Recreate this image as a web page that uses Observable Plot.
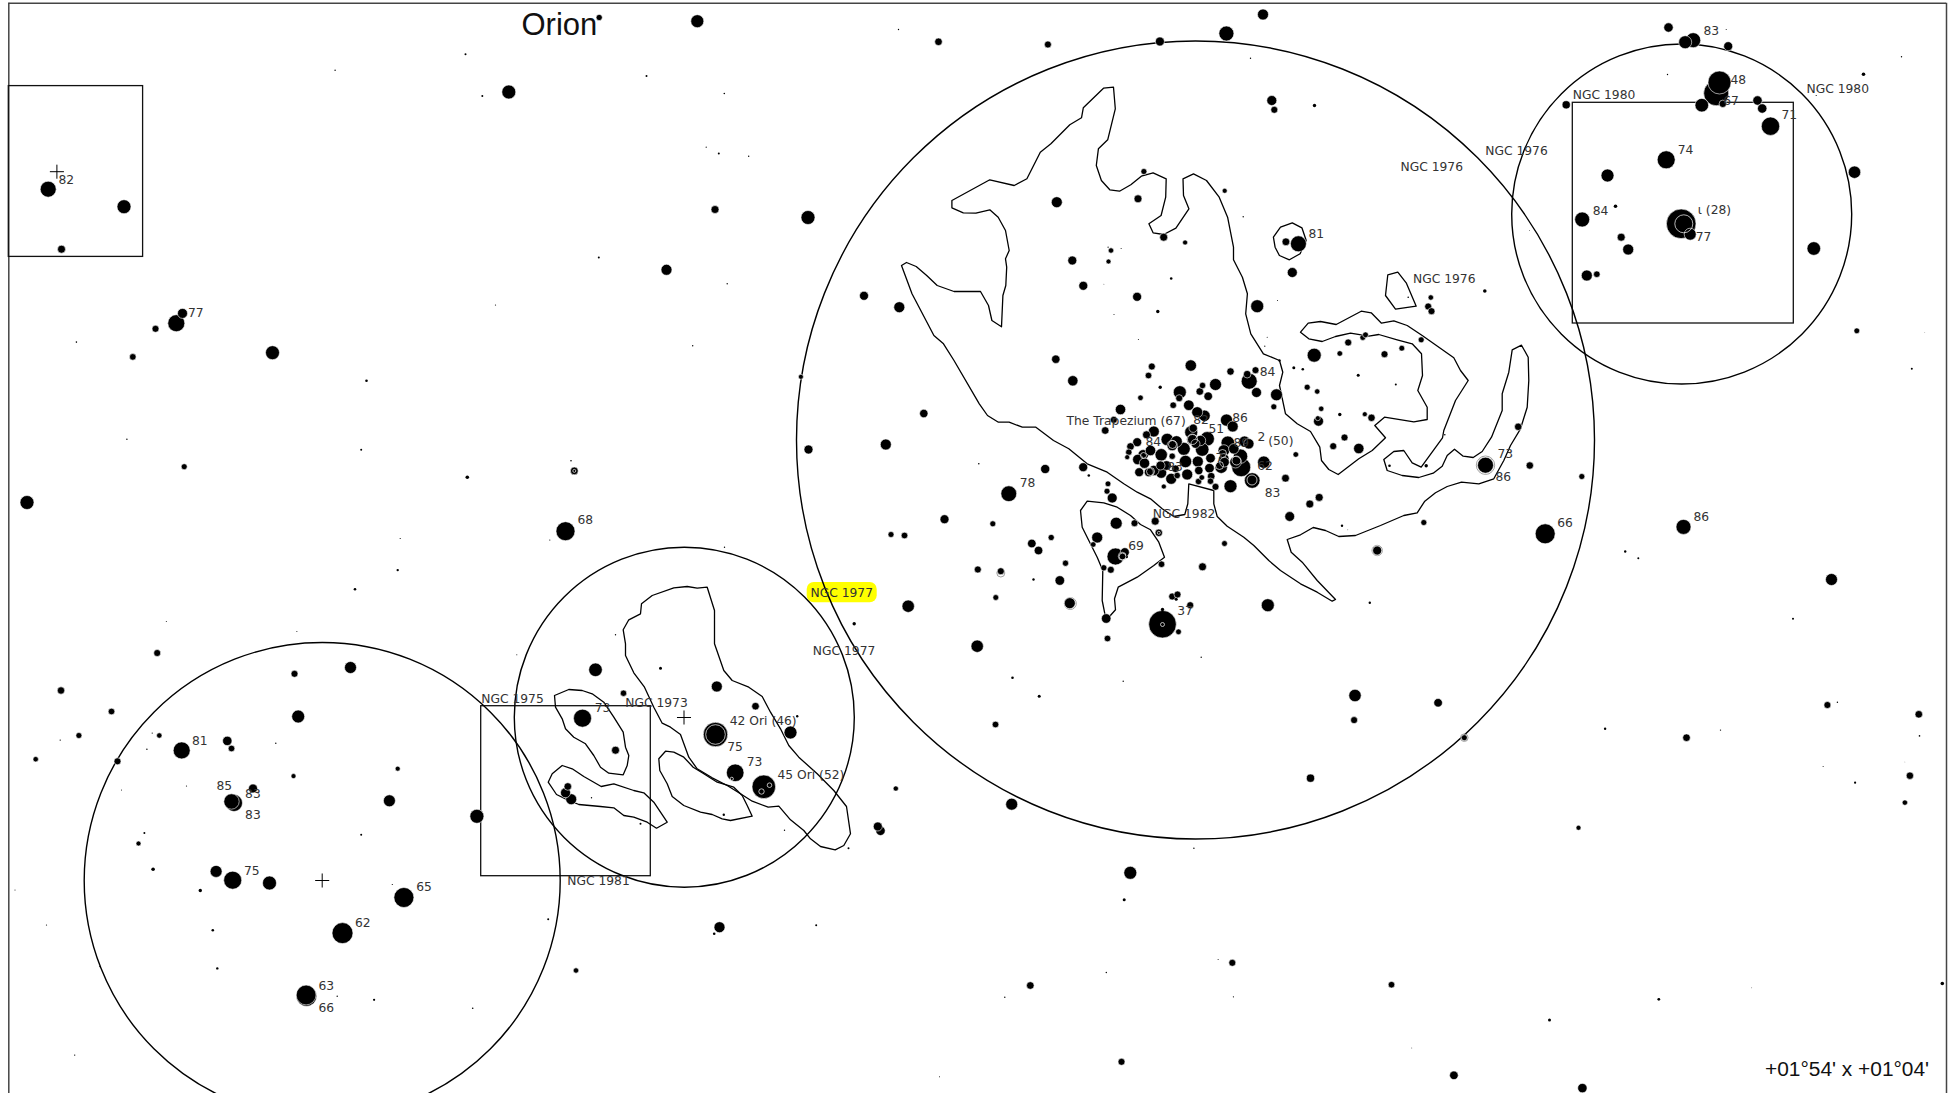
<!DOCTYPE html>
<html>
<head>
<meta charset="utf-8">
<style>
html,body{margin:0;padding:0;background:#fff;overflow:hidden}
svg{display:block}
</style>
<script src="https://cdn.jsdelivr.net/npm/d3@7"></script>
<script src="https://cdn.jsdelivr.net/npm/@observablehq/plot@0.6"></script>
</head>
<body>
<div id="chart"></div>
<script>
// Values: [x, y, size] in chart units (y grows downward)
const westStars = [[598.7,17,2.6],[465,53.7,1],[334.6,69.8,.7],[481.8,95.4,1],[508.3,91.5,6.5],[646,75.4,1],[47.7,188.7,7.5],[123.5,206.2,6.5],[61,248.7,3.5],[598.3,257,1],[495,304.5,.6],[182,312.9,4.5],[175.8,322.7,8],[155,328.3,3],[75.9,341.6,.8],[132.3,356.4,2.8],[272,352.2,6.5],[366,380.2,1.3],[126.4,438.8,.7],[360.7,449.3,1],[183.7,466.2,2.5],[466.8,476.7,1.8],[570.5,460.2,.8],[573.8,470.4,3.4],[26.5,502,6.5],[565,530.7,9],[399.7,538,.6],[549.3,539.5,.6]];
const southWestStars = [[397.2,569.6,1.2],[354.5,588.7,1.3],[165.8,621,.5],[296.4,631,.5],[156.7,652.5,3],[350,667,5.5],[294,673.3,3],[60.5,690,3.2],[111,711,2.8],[297.7,716,6],[78.4,735,2.5],[59.7,739.6,.7],[158.8,735,2.2],[151.7,732.6,.6],[146.4,748.8,.7],[181.2,749.9,8],[226.8,740.4,4.2],[231,748,2.8],[275.3,742.8,.7],[35.2,758.7,2.2],[117,760.8,3],[397.2,768.2,2],[293,775.6,2],[186,785.5,.6],[121,789.4,.5],[252.5,788,4],[233.5,802.5,8],[231,801,7.2],[388.9,800.3,5.5],[476.4,815.8,6.5],[143.9,832.4,1],[138,843,2],[360.7,834.2,1],[152.6,868.7,1.8],[215.6,870.9,5.5],[232.2,879.7,8.5],[269,882.5,6.5],[391.8,884,.6],[14.5,889.6,.5],[199.8,890,1.7],[403.4,897,9.5],[46,924.5,.6],[547.7,918.8,1],[342,932.6,10],[212.3,929.8,1.3],[99.5,966,.7],[216.8,967.9,1.2],[575.5,970,2.2],[306,995.5,9.8],[305.6,994.5,9.4],[336.7,995.7,.7],[373.6,999.3,1.1],[472.2,1007.7,.8],[74.2,1054.6,.7]];
const sword = [[724,546.7,.7],[907.7,605.7,5.7],[853.7,623.3,1.7],[615,634.3,.7],[516.3,654.3,.5],[595,669.3,6.3],[660,667.7,1.5],[716.3,686,5],[623,692.7,2.7],[755,705.7,3.3],[582,717.7,8.5],[796.7,715.7,1.2],[790,732,6],[715,734,11.7],[615,749.7,3.5],[734.7,772.3,8.3],[763.3,786.3,11.3],[567.3,786,3.3],[565,792.3,4.5],[570.7,798.7,5],[591,797.3,.7],[895.3,788,2.1],[877.3,826,4],[880,830.3,4.2],[640,823.3,1],[723.3,814.3,1.2],[784,829.7,.7],[848,847.7,1],[719,926.7,5],[713.7,933.3,1.3],[815.7,924.7,1]];
const northStars = [[696.8,20.7,6],[898,29,.7],[938,41.3,3.3],[1047.4,44,3],[1159.4,41,4],[1225.9,33,7],[1262.5,14,5],[1250,57.7,.7],[723.8,93,.8],[705.7,146.7,.6],[718.3,153,1],[748.2,155.7,.7],[714.5,209,3.5],[807.5,217,6.5],[666,269.3,5],[726.7,283.3,.7],[863.5,295.3,4],[898.8,306.7,5],[692.2,345.3,.7],[800.4,376.3,2],[1271.3,100,4.5],[1273.8,109.3,3],[1224.2,190.3,2],[1242.7,216.3,.7],[1056.3,201.7,5],[1137.5,198.3,3.5],[1143.4,171,2.5],[1163.2,236.7,3.5],[1184.6,242,2],[1110.5,250,2.2],[1107.6,246.7,.6],[1120.6,248,.5],[1108,261,2],[1071.8,260,4],[1082.8,285.3,4],[1103.4,283.7,.4],[1170.7,278,1.3],[1136.6,296.3,4],[1157.3,311,1.7],[1113.5,314,.5],[1137.9,339,.5],[1314,105,1.7],[1297.9,243.3,7.5],[1285.4,241.3,3.4],[1291.8,272,4.5],[1277,300,.5],[1256.7,305.7,6],[1266.7,336.7,.5],[1264.3,345.7,.6],[808,449,4],[885.3,444,5],[923.3,413,3.7],[890.5,534,2.5],[904,535,2.8]];
const trapezium = [[1055.3,358.7,3.7],[1072.3,380.3,4.7],[1151.3,366,3],[1148,375,2.8],[1190.3,365,5.2],[1230,371,3.2],[1246.7,373.7,3.3],[1248.7,380.7,7.5],[1255,369.7,3],[1256,392,4.5],[1276,394.3,5.5],[1273.3,406.3,2.5],[1215,384,5.5],[1202,385,2.7],[1199.3,391,3.3],[1207.7,395.7,3.8],[1179.3,391.7,6],[1178.7,397.7,3],[1172.7,404.7,2.8],[1140,397.3,2.3],[1159.7,386.7,1.7],[1188.3,404.7,4.8],[1196.7,411.7,5],[1204,415.3,5.2],[1226,419.6,5.6],[1232.2,426,5],[1120,409,4.7],[1113.3,419.3,3],[1104.7,430,3.3]];
const trapeziumCore = [[1153.3,431,5],[1146,434.3,3.5],[1136.7,441.7,4],[1130,446,3.3],[1128.3,451.7,2.7],[1126.7,456.7,2],[1142.7,454.3,4.7],[1150,450,4.7],[1137.3,459,4.7],[1144,462.7,4.7],[1160.7,454.3,5.7],[1166.7,439,5.7],[1176,441,5.3],[1171.7,445,4.7],[1171.7,455.7,2.7],[1183.3,448.3,6],[1191.7,439,5],[1190.7,431.7,6],[1192.7,427.7,3.7],[1206.7,438.3,6.7],[1200,440,4.7],[1201.7,449,6.3],[1195,443.3,4],[1227.3,442.3,6.3],[1244,441,5],[1248.3,443.3,4.7],[1223.3,450,5.3],[1233.3,448.3,4.7],[1240,455.7,6.7],[1223.3,458.3,4.7],[1210,457.7,4.3],[1185,461,5.7],[1197.3,461,5],[1235,461.7,5.3],[1224,461.7,4.3],[1220.7,466.7,5.7],[1240.7,466.7,9],[1263.3,461.7,5.7],[1251.7,480,7.3],[1230,485.7,6],[1215,486.3,3],[1209,467.7,4.3],[1210.7,475.7,3.3],[1210,480.7,2.7],[1198.3,470,3.7],[1201.3,477,2.3],[1198,481,2.7],[1186.7,474,5],[1176.7,475,2.7],[1170.7,478.3,5],[1163.3,486,2],[1160.7,472.3,5],[1153.3,470,4.7],[1148.3,471.7,4],[1138.7,471.7,4],[1166,465,4.3],[1175,468.3,3.3],[1160,465,4],[1285,477.7,3.4],[1295.3,454,2.3]];
const southOfTrapezium = [[1082.7,466.7,4],[1088.3,475,1.3],[1044.7,468.5,4.1],[1008.3,493.2,7.4],[1107.5,483.3,2.4],[1106.5,490.7,2.5],[1111.7,497.5,4.5],[978.3,463.3,.8],[944,518.7,4],[992.3,523.3,2.5],[1115.7,522.7,5.5],[1134,522.7,3],[1154.7,520.7,3.5],[1158.3,532.3,3.2],[1096.7,537,5],[1092.7,544,2.3],[1050.7,537,2.6],[1031.3,543,3.8],[1038,550,3.8],[1065,562.7,2.6],[1115,556,8],[1124.3,551.7,4],[1121.7,555.7,3.5],[1126,556.3,1.5],[1103.3,567.3,2.6],[1110.3,569.3,3],[1161,563.7,2.8],[1202,566.3,3.5],[1224,543,2.4],[977.3,569,3],[1000.3,570.7,3],[1033,579,1.2],[1059.3,580,4.3],[995.3,597,2.4],[1069.3,602.7,5],[1105.7,618,4.3],[1107,638,2.8],[1162,623.7,13.3],[1162,609,1.7],[1171.7,596,3],[1177,594,3],[1175.7,598.7,1.5],[1189.7,604.7,3],[1178,631.3,2.4],[1267.3,604.7,6],[976.7,645.7,5.7],[1012,677.3,1.3],[1038.7,695.7,1.5],[1122.7,680.7,.7],[1200.7,656.7,.7],[995,724,2.8],[1354.5,695,5.7],[1353.6,719.6,3],[1310,777.7,3.6],[1011.2,803.7,5.5],[1193.4,847.7,.7],[1129.8,872.3,6],[1123.7,899.3,1.5],[1029.8,985,3.3],[1004.3,996.7,.7],[1105.8,972,.7],[1231.8,962.3,3],[1217.6,959,.5],[1232.9,996.3,.6],[1121,1061.3,3],[939,1076.3,.5]];
const loopStars = [[1430.3,297,2.2],[1427.7,306,3],[1431,310.7,3],[1407.7,296.7,.8],[1484.3,290.5,1.8],[1279,360,1.2],[1293.3,367.3,1.5],[1302.3,368.7,1.3],[1306.7,386.7,2.5],[1316.7,391,2.2],[1320.7,408.3,2.2],[1318,420.7,4.5],[1317.3,417.7,2],[1339.3,414,1.7],[1364.3,413.7,2],[1371,417.3,3.2],[1344,437,3],[1332.7,445.7,3],[1358.3,448,4.7],[1313.7,354.7,6.5],[1339.3,353,2.3],[1347.7,342,3],[1362.3,337,2.4],[1365,334.3,2.4],[1384,353.7,3],[1401.3,347.7,2.4],[1420.7,339.3,2.5],[1357.7,374.7,1.5],[1395.3,384,1],[1444.3,434.3,.8],[1425.7,465.3,1.7],[1389,465.3,1.3],[1485,464.7,7.5],[1517.7,426.3,3.2],[1529.3,465,3.2],[1581.3,476,2.5],[1544.7,533.3,9.5],[1423.3,522,2.5],[1376.7,550,4],[1341.5,525.3,1.2],[1347.3,529.3,.4],[1369.3,602.3,1.2],[1318.7,496.9,3.5],[1309.3,503.5,3.5],[1289.2,516,4.4]];
const eastStars = [[1683,526.4,7],[1624.7,551,1.2],[1637.8,557.8,1],[1831,579,5.5],[1792.5,618.3,1],[1437.6,702.3,3.8],[1463.8,737.2,2.5],[1604.6,728.3,1.2],[1686,737.2,3.3],[1720,729.6,.7],[1826.9,704.5,3],[1836.9,701.8,.7],[1918.3,713.8,3.3],[1919,735.4,.8],[1822.6,766,.5],[1904.4,761.5,.3],[1909.4,775.2,3.2],[1854.6,782.2,1.1],[1904.4,802.1,2.2],[1578,827.3,2],[1391,984.2,2.8],[1658.3,998.8,1.4],[1751.2,987.3,.4],[1549,1019.5,1.5],[1941.8,983,1.8],[1411.3,1047.5,.4],[1453.4,1074.8,3.8],[1581.9,1087.6,4.2]];
const northEastStars = [[1668,27,4.2],[1692.7,39.7,7],[1684.7,41.7,6],[1727.7,45.7,4],[1725.7,29,.5],[1667,74,.7],[1719,82,11],[1715.7,92.7,12],[1701.3,104.7,6.3],[1722.3,103.3,3.2],[1757,100,4.2],[1761.7,108,4.2],[1770,125.7,8.7],[1815.7,95,.6],[1565.7,104.3,3.6],[1863,73.7,1.8],[1901,56.3,.7],[1854,171.7,5.7],[1813.3,248,6.3],[1856.3,330.3,2.4],[1911.3,368.3,1],[1924.3,332.3,.3],[1665.7,159.3,8.5],[1607,175,6],[1615,205.7,1.8],[1581.7,219,7],[1680.7,223.3,14.3],[1689.7,233.7,5.5],[1620.7,236.7,3.5],[1627.7,249,5],[1586.3,275,5],[1596.3,273.7,2.8],[1529,230,.4]];

const whiteRings = [[715,734,9.8],[731.3,778.3,1.6],[761,791,2.7],[769,784.7,2.3],[1683.3,223.3,9],[1162,624,2],[573.8,470.4,1.5],[1158.3,532.3,1.5],[1192,439,5],[1172,444,4],[1222,453,4],[1236,460,4.5],[1150,471,4],[1143,455,3],[1251.5,479.5,5],[1219,465,4],[1122,556,3.4]];
const greyRings = [[1485,464.7,9.2],[1376.7,550,5.2],[1463.8,737.2,3.8],[1069.8,603,6],[1000.3,572.5,4]];

const groups = [[321.7,880,238],[683.8,716.7,170],[1195,439.5,399],[1681.2,213.5,170]];
const boxes = [[8.3,142.6,85.6,256.4],[480.7,650.3,705.7,875.7],[1572.3,1793.3,102.3,323]];
const crosses = [[56.4,171.2],[321.7,880],[683.5,717]];
const highlight = [[806.7,876.7,582,602.3]];
const frameSides = [8.3,1946];
const frameTop = [2.8];

const nebulaMain = [[901,265],[906,262],[915.7,266],[926.2,275],[936.7,285],[953.5,291],[980,291],[988,305],[991.4,320],[1001,326.3],[1002.4,295],[1005.3,285],[1006.2,266.7],[1005,258.3],[1008.7,250],[1005,230],[997.7,216.7],[989.3,209.3],[975.4,212.7],[962.8,212.3],[951.4,207.3],[951.4,200],[989.3,179.3],[1013.7,185],[1026.4,178.3],[1039.8,151.7],[1050.4,143.3],[1069.3,124.3],[1081,117.3],[1082.8,107.3],[1103,87.7],[1113,86.7],[1114.8,108.3],[1107.2,139.3],[1097.9,148.3],[1095.8,165],[1100.9,180],[1109.3,189.3],[1119,190.7],[1130.3,184.3],[1140.8,175.7],[1152.6,172.3],[1165.7,178.3],[1165.2,196.7],[1160.6,215],[1148.4,223.3],[1152.6,232.3],[1163.2,234],[1175.4,227.7],[1188.4,208.3],[1183,195],[1182.5,178.3],[1193,173.3],[1206,180],[1218.7,196.7],[1227.1,216.7],[1233,246.7],[1233,259.3],[1241.9,276.7],[1246.9,293.3],[1245.2,313.3],[1250.3,333.3],[1262.9,353.3],[1279,360],[1282.3,371.7],[1279,385],[1285,413.3],[1296.7,423.3],[1310,431],[1319.3,446.7],[1321,460],[1328.3,469],[1337.7,474],[1358.3,458.3],[1371.7,450],[1385,437.3],[1374.3,425],[1384,416.7],[1413.3,421.3],[1426.7,419],[1426.7,406.7],[1417.3,390],[1422,375],[1421,353.3],[1411.7,343.3],[1396.7,339.3],[1378.3,334],[1368.3,335.7],[1350,332.7],[1335,336],[1321.7,341],[1308.3,338.3],[1300,331.7],[1307.7,322.7],[1320,321],[1335.7,324],[1360.7,310.7],[1370.7,312.3],[1381,322.7],[1393.3,320.3],[1406.7,325],[1421.7,335],[1453.3,357.3],[1460,370],[1467.7,380],[1455,400],[1443.3,430],[1442,437.3],[1420.7,466.7],[1411.7,462.3],[1403.3,450],[1393.3,451],[1383.3,459],[1386.7,470],[1401.7,475],[1418.3,477],[1432.7,472.7],[1441.7,465.7],[1446.7,455],[1454,448.7],[1462.7,455.7],[1472.7,457],[1481.7,451],[1491,436.7],[1501.7,410],[1501.7,393.3],[1508.3,371.7],[1511.7,349.3],[1521,344.7],[1527.7,356.7],[1528.3,380],[1526.7,406.7],[1520,428.3],[1510,445],[1503.3,460],[1493.3,478.3],[1478.3,483.3],[1461,481.7],[1446.7,486],[1435,492.3],[1424.3,500.7],[1416.7,512.3],[1403.3,515],[1380,525],[1355,535],[1338.3,536],[1325,530],[1312.7,527],[1300,534.3],[1286.7,539],[1290.7,551.7],[1301.7,561.7],[1316.7,580],[1335,599],[1331.7,600.7],[1316.7,591.7],[1300,583.3],[1280,570],[1268.3,560],[1253.3,545],[1243.3,536.7],[1226.7,525.7],[1216.7,516],[1213.3,503.3],[1213.3,490],[1188.3,483.3],[1187.3,503.3],[1184.3,514],[1173.3,516],[1161.7,508.3],[1150,498.3],[1136.7,491.7],[1123.3,483.3],[1106.7,471.7],[1086.7,463.3],[1068.3,448.3],[1053,440],[1035.4,426.7],[1021.8,426.7],[1008.6,421.7],[997.9,421.7],[987,415],[978.8,403.3],[953.5,360],[943,343.3],[933.4,335],[911.5,293.3]];
const nebula1976 = [[1387.3,274.3],[1397.3,271.7],[1405.7,282.3],[1415.7,305.7],[1395,308.7],[1385,295]];
const nebula81 = [[1272.9,236.7],[1280,226.7],[1291.8,222.3],[1301.4,227.3],[1305.7,240],[1299.6,253.3],[1288.9,259.3],[1278.9,255],[1274.6,246.7]];
const nebula69 = [[1086.7,500.7],[1103.3,502.3],[1116.7,506.7],[1130,515],[1140,524],[1150,529.3],[1158.3,541.7],[1164,556.7],[1153.3,565],[1136.7,576.7],[1117.7,586.7],[1114,598.3],[1115,609.3],[1109,616],[1105,616.7],[1101.7,600],[1102.3,570],[1096.7,556.7],[1088.3,540],[1081.7,526.7],[1080,510]];
const nebula1973 = [[706.7,586.7],[714,610],[714,643.3],[723.3,670],[731.7,680],[748.3,686.7],[761.7,696],[770,711.7],[780,728.3],[788.3,745],[798.3,756.7],[816.7,773.3],[833.3,790],[846,806],[850,833.3],[843.3,845],[834.7,849.3],[820,846],[810,838.3],[803.3,830],[790,819.3],[778.3,805.7],[767.7,806.7],[751.7,800.7],[740,793.3],[726.7,785],[711.7,777.3],[696.7,768.3],[688.3,756.7],[680,734],[670,726.7],[661.7,722.7],[653.3,706.7],[644,686.7],[633.3,672.3],[625,655],[625,643.3],[622.7,629.3],[628.3,619.3],[640,613.3],[641,603.3],[651.7,595],[673.3,587.3],[686.7,586],[696.7,587.7]];
const nebulaInner = [[658.3,758.3],[665,750.7],[673.3,751.7],[683.3,756.7],[692.7,766.7],[703.3,773.3],[716.7,781.7],[733.3,786.7],[741.7,795],[746.7,805],[751.7,815.7],[730,820],[721.7,818.3],[711.7,814],[700,811.7],[683.3,805],[671.7,796],[666.7,783.3],[659.3,770]];
const nebula73 = [[554,695],[568.3,689],[581.7,690],[591.7,693.3],[603.3,701.7],[613.3,716.7],[622.7,731.7],[625,746.7],[628.3,755],[626.7,765],[622.7,774.3],[608.3,772.7],[600,766.7],[593.3,755],[585,743.3],[573.3,736.7],[565,728.3],[561.7,718.3],[555,706.7]];
const nebula1981 = [[547.7,781.7],[551.7,773.3],[561.7,765],[571.7,768.3],[583.3,776],[600.7,786],[613.3,783.3],[633.3,790],[643.3,792.3],[653.3,801.7],[666.7,821.7],[656,827.7],[646.7,821.7],[633.3,816.7],[623.3,815],[613.3,807.3],[600,806],[578.3,804],[565,798.3],[556,794]];

const starLabels = [[58,179.6,"82"],[187.4,313,"77"],[577,520,"68"],[191.5,740.4,"81"],[216,785.5,"85"],[244.6,793.6,"83"],[244.6,814.4,"83"],[243.4,870.5,"75"],[415.8,886.4,"65"],[354.5,922.4,"62"],[318,985.5,"63"],[318,1007.4,"66"],[594.3,707.7,"73"],[729.3,721,"42 Ori (46)"],[726.7,746.3,"75"],[746.3,762,"73"],[777,774.3,"45 Ori (52)"],[1308,234,"81"],[1259.3,371.7,"84"],[1066,420.7,"The Trapezium (67)"],[1192.7,419.3,"82"],[1231.7,417.7,"86"],[1208,429,"51"],[1257,436.5,"2"],[1267.7,440.5,"(50)"],[1233,442.7,"89"],[1145,441.7,"84"],[1215,457.3,"7"],[1166.7,466.7,"83"],[1256.7,466,"62"],[1264.3,492.7,"83"],[1019.3,482.7,"78"],[1127.7,545.3,"69"],[1176.7,610.3,"37"],[1497,454,"73"],[1495,476.7,"86"],[1556.7,522.7,"66"],[1693,516.7,"86"],[1703,30.3,"83"],[1730,79.3,"48"],[1722.7,101,"67"],[1781,115,"71"],[1677.3,149.7,"74"],[1592.3,210.3,"84"],[1697.3,210,"ι (28)"],[1695.3,236.3,"77"]];
const ngcLabels = [[480.7,698.3,"NGC 1975"],[624.7,702.3,"NGC 1973"],[566.7,880.3,"NGC 1981"],[810,592.3,"NGC 1977"],[812.3,650.3,"NGC 1977"],[1152.3,514,"NGC 1982"],[1400,166.3,"NGC 1976"],[1484.7,150.3,"NGC 1976"],[1412.5,278.3,"NGC 1976"],[1572.3,94.3,"NGC 1980"],[1806,88.3,"NGC 1980"]];
const titleLabel = [[521,25,"Orion"]];
const fieldLabel = [[1764.5,1068.6,"+01°54' x +01°04'"]];

const stars = [westStars,southWestStars,sword,northStars,trapezium,trapeziumCore,southOfTrapezium,loopStars,eastStars,northEastStars].flat();
const X = d => d[0], Y = d => d[1], S = d => d[2], T = d => d[2];
const outlined = d => d[2] + 0.5; // the white outline eats into the disc
const nebula = a => Plot.line(a,{x:X,y:Y,curve:"linear-closed",stroke:"#000",strokeWidth:1.3,strokeLinejoin:"round"});

const labelFont = {fontFamily:"DejaVu Sans, sans-serif",fontSize:12.3,fill:"#333",textAnchor:"start",lineAnchor:"middle"};

const chart = Plot.plot({
  width:1955,height:1093,
  marginTop:0,marginRight:0,marginBottom:0,marginLeft:0,
  x:{domain:[0,1955],range:[0,1955],axis:null},
  y:{domain:[0,1093],range:[0,1093],axis:null},
  r:{type:"linear",domain:[0,400],range:[0,400]},
  style:{background:"#fff"},
  marks:[
    Plot.rect(highlight,{x1:d=>d[0],x2:d=>d[1],y1:d=>d[2],y2:d=>d[3],fill:"#ffff00",rx:7}),
    Plot.ruleX(frameSides,{y1:frameTop[0],y2:1093,stroke:"#444",strokeWidth:1.5}),
    Plot.ruleY(frameTop,{x1:frameSides[0],x2:frameSides[1],stroke:"#444",strokeWidth:1.5}),
    Plot.rect(boxes,{x1:d=>d[0],x2:d=>d[1],y1:d=>d[2],y2:d=>d[3],fill:"none",stroke:"#111",strokeWidth:1.3}),
    Plot.dot(groups,{x:X,y:Y,r:S,fill:"none",stroke:"#000",strokeWidth:1.4}),
    nebula(nebulaMain),nebula(nebula1976),nebula(nebula81),nebula(nebula69),nebula(nebula1973),nebula(nebulaInner),nebula(nebula73),nebula(nebula1981),
    Plot.dot(crosses,{x:X,y:Y,symbol:"plus",r:4.6,stroke:"#000",strokeWidth:1}),
    Plot.dot(greyRings,{x:X,y:Y,r:S,fill:"none",stroke:"#888",strokeWidth:.8}),
    Plot.dot(stars.filter(d=>d[2]>=2),{x:X,y:Y,r:outlined,fill:"#000",stroke:"#fff",strokeWidth:.6}),
    Plot.dot(stars.filter(d=>d[2]<2),{x:X,y:Y,r:S,fill:"#000"}),
    Plot.dot(whiteRings,{x:X,y:Y,r:S,fill:"none",stroke:"#fff",strokeWidth:.7}),
    Plot.text(starLabels,{x:X,y:Y,text:T,...labelFont}),
    Plot.text(ngcLabels,{x:X,y:Y,text:T,...labelFont}),
    Plot.text(titleLabel,{x:X,y:Y,text:T,fontFamily:"Liberation Sans",fontSize:31,fill:"#111",textAnchor:"start",lineAnchor:"middle"}),
    Plot.text(fieldLabel,{x:X,y:Y,text:T,fontFamily:"Liberation Sans",fontSize:20.9,fill:"#111",textAnchor:"start",lineAnchor:"middle"})
  ]
});
document.getElementById("chart").append(chart);
</script>
</body>
</html>
